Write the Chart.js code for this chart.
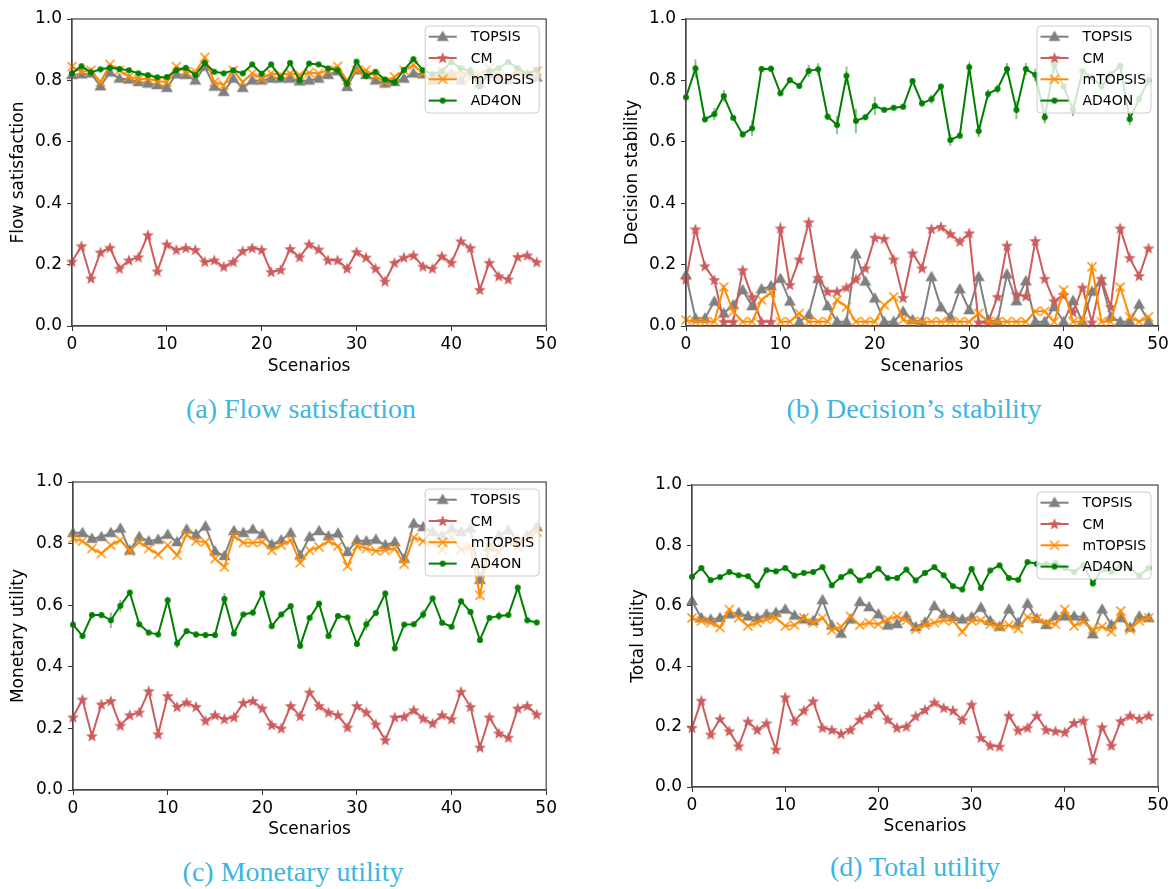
<!DOCTYPE html>
<html><head><meta charset="utf-8">
<script src="https://cdn.jsdelivr.net/npm/chart.js@4"></script>
<style>
body{margin:0;background:#fff;width:1176px;height:889px;position:relative;overflow:hidden}
canvas{position:absolute}
.cap{position:absolute;font-family:"Liberation Serif","Times New Roman",serif;font-size:28px;color:#3cb6e0;transform:translateX(-50%);white-space:nowrap;line-height:1}
</style></head><body>
<canvas id="ca" width="560" height="384" style="left:0;top:0"></canvas>
<canvas id="cb" width="576" height="384" style="left:600px;top:0"></canvas>
<canvas id="cc" width="560" height="408" style="left:0;top:440px"></canvas>
<canvas id="cd" width="576" height="405" style="left:600px;top:440px"></canvas>
<div class="cap" style="left:301px;top:395px">(a) Flow satisfaction</div>
<div class="cap" style="left:914px;top:395px">(b) Decision’s stability</div>
<div class="cap" style="left:293px;top:858px">(c) Monetary utility</div>
<div class="cap" style="left:915px;top:853px">(d) Total utility</div>
<script>
// ---------- data ----------
const scenarios = Array.from({length: 50}, (_, i) => i);
const seriesNames = ['TOPSIS', 'CM', 'mTOPSIS', 'AD4ON'];
const xTicks = [0, 10, 20, 30, 40, 50];
const yTicks = [0.0, 0.2, 0.4, 0.6, 0.8, 1.0];

// (a) Flow satisfaction
const flowTopsis = [.818,.82,.823,.781,.826,.806,.803,.795,.79,.785,.776,.82,.818,.80,.845,.78,.763,.806,.776,.80,.80,.806,.806,.806,.797,.80,.806,.818,.83,.779,.833,.818,.80,.79,.795,.806,.823,.82,.80,.82,.82,.80,.83,.79,.82,.81,.80,.83,.82,.81];
const flowCM = [.21,.26,.155,.24,.255,.187,.214,.224,.296,.178,.266,.248,.254,.248,.209,.214,.193,.209,.244,.254,.248,.176,.183,.251,.224,.266,.249,.214,.214,.187,.241,.223,.187,.145,.206,.223,.23,.194,.187,.227,.206,.276,.254,.118,.206,.162,.152,.225,.23,.208];
const flowMTopsis = [.845,.828,.833,.795,.852,.833,.812,.803,.806,.797,.795,.845,.828,.828,.875,.795,.785,.833,.795,.823,.806,.823,.818,.823,.818,.825,.823,.833,.846,.80,.833,.833,.814,.795,.812,.833,.85,.823,.80,.83,.82,.83,.81,.82,.84,.82,.81,.83,.82,.83];
const flowAD4ON = [.823,.846,.826,.836,.841,.837,.833,.823,.817,.81,.811,.833,.841,.817,.857,.828,.823,.833,.823,.852,.822,.852,.808,.857,.80,.855,.852,.839,.833,.79,.861,.814,.828,.803,.794,.834,.869,.833,.82,.83,.86,.84,.83,.78,.83,.84,.86,.84,.82,.835];
const flowAD4ONErr = [.01,.01,.005,.005,.005,.01,.005,.005,.005,.005,.005,.01,.005,.005,.01,.005,.005,.005,.005,.005,.005,.005,.005,.005,.005,.005,.005,.005,.005,.005,.005,.005,.005,.005,.005,.005,.01,.005,.005,.005,.005,.005,.005,.005,.005,.005,.005,.005,.005,.005];

// (b) Decision stability
const stabTopsis = [.166,.025,.025,.08,.041,.068,.117,.065,.12,.13,.154,.08,.014,.036,.154,.065,.014,.014,.234,.145,.09,.014,.014,.047,.02,.014,.16,.061,.03,.12,.052,.16,.02,.014,.168,.081,.146,.014,.014,.062,.014,.082,.014,.112,.146,.03,.014,.014,.07,.014];
const stabCM = [.152,.315,.195,.15,.014,.014,.182,.095,.014,.014,.318,.134,.217,.338,.157,.112,.112,.125,.152,.188,.288,.284,.217,.092,.237,.188,.316,.323,.30,.275,.302,.012,.012,.095,.262,.103,.097,.277,.154,.081,.101,.045,.125,.012,.154,.062,.318,.222,.163,.253];
const stabMTopsis = [.02,.014,.014,.014,.127,.047,.014,.014,.085,.109,.014,.014,.041,.014,.014,.014,.085,.062,.014,.014,.014,.068,.095,.02,.014,.014,.014,.014,.014,.014,.014,.041,.014,.014,.014,.014,.014,.048,.048,.014,.117,.014,.014,.193,.014,.014,.127,.03,.014,.03];
const stabAD4ON = [.745,.839,.673,.69,.749,.678,.624,.644,.837,.838,.758,.801,.782,.831,.836,.682,.655,.815,.668,.68,.717,.704,.711,.714,.798,.725,.739,.78,.606,.62,.843,.635,.756,.772,.837,.704,.837,.818,.68,.85,.78,.704,.83,.81,.78,.82,.847,.674,.74,.80];
const stabAD4ONErr = [.01,.03,.005,.02,.02,.005,.01,.025,.01,.01,.005,.01,.01,.02,.02,.01,.03,.03,.04,.01,.03,.005,.005,.005,.01,.01,.015,.005,.02,.01,.01,.02,.015,.015,.02,.03,.02,.02,.02,.02,.01,.02,.01,.01,.01,.01,.01,.02,.01,.02];

// (c) Monetary utility
const monTopsis = [.835,.835,.816,.822,.835,.849,.778,.822,.808,.813,.829,.805,.846,.829,.856,.775,.76,.841,.835,.846,.83,.797,.811,.835,.762,.822,.841,.824,.833,.773,.811,.808,.813,.795,.805,.751,.865,.854,.838,.826,.849,.838,.849,.683,.789,.826,.843,.81,.826,.854];
const monCM = [.236,.294,.175,.278,.289,.209,.243,.252,.321,.181,.305,.27,.284,.27,.225,.243,.23,.236,.283,.289,.265,.211,.20,.273,.24,.317,.273,.252,.243,.203,.273,.252,.213,.162,.236,.238,.259,.232,.216,.243,.23,.319,.27,.138,.236,.184,.17,.265,.273,.245];
const monMTopsis = [.816,.808,.784,.768,.795,.811,.776,.805,.784,.765,.795,.762,.829,.808,.805,.751,.724,.824,.803,.803,.805,.778,.795,.811,.738,.778,.789,.808,.792,.727,.792,.784,.776,.778,.784,.733,.82,.808,.805,.78,.822,.78,.789,.632,.789,.773,.805,.789,.816,.838];
const monAD4ON = [.537,.50,.568,.568,.551,.598,.641,.538,.511,.505,.616,.476,.516,.505,.503,.503,.62,.508,.57,.576,.638,.532,.57,.597,.468,.559,.605,.50,.565,.56,.474,.538,.575,.638,.46,.537,.538,.57,.622,.543,.53,.613,.578,.487,.559,.565,.568,.657,.551,.544];
const monAD4ONErr = [.005,.005,.01,.01,.025,.02,.005,.005,.005,.005,.005,.015,.005,.01,.01,.005,.02,.005,.005,.005,.005,.005,.005,.005,.005,.005,.005,.005,.005,.005,.005,.02,.005,.005,.005,.005,.005,.015,.005,.005,.005,.005,.005,.005,.005,.015,.005,.005,.01,.005];

// (d) Total utility
const totTopsis = [.616,.56,.555,.56,.572,.577,.565,.56,.572,.577,.588,.568,.555,.55,.619,.535,.508,.555,.613,.596,.572,.535,.54,.565,.53,.545,.599,.572,.563,.555,.563,.594,.55,.531,.588,.544,.607,.557,.537,.565,.565,.565,.563,.506,.588,.537,.56,.528,.565,.56];
const totCM = [.196,.286,.174,.225,.185,.135,.217,.189,.211,.124,.297,.218,.253,.284,.196,.189,.176,.189,.223,.242,.267,.223,.196,.20,.234,.255,.28,.262,.253,.222,.273,.163,.137,.134,.236,.187,.196,.236,.189,.185,.181,.212,.22,.09,.198,.137,.218,.236,.225,.236];
const totMTopsis = [.56,.55,.544,.528,.588,.56,.533,.544,.555,.56,.533,.536,.56,.544,.56,.519,.531,.565,.536,.544,.539,.555,.565,.552,.522,.537,.544,.552,.55,.514,.55,.552,.539,.531,.536,.524,.563,.558,.544,.539,.588,.533,.547,.522,.531,.514,.583,.522,.55,.56];
const totAD4ON = [.696,.725,.685,.695,.712,.701,.698,.667,.718,.714,.725,.70,.709,.712,.728,.668,.695,.714,.684,.70,.723,.692,.692,.72,.684,.709,.728,.701,.665,.654,.722,.659,.717,.734,.692,.686,.745,.739,.737,.742,.725,.712,.735,.674,.72,.712,.735,.725,.70,.725];

// ---------- styles ----------
const COLORS = ['#808080', '#cd5c5c', '#ff8c00', '#008000'];
function mk(w, h, fn) { const c = document.createElement('canvas'); c.width = w; c.height = h; fn(c.getContext('2d')); return c; }
const triImg = mk(14, 14, g => { g.fillStyle = COLORS[0]; g.beginPath(); g.moveTo(7, 0.8); g.lineTo(13, 11.2); g.lineTo(1, 11.2); g.closePath(); g.fill(); });
const starImg = mk(14, 14, g => { g.fillStyle = COLORS[1]; g.beginPath();
  for (let k = 0; k < 10; k++) { const r = k % 2 ? 2.6 : 6.3; const a = -Math.PI / 2 + k * Math.PI / 5; const px = 7 + r * Math.cos(a), py = 7.4 + r * Math.sin(a); k ? g.lineTo(px, py) : g.moveTo(px, py); }
  g.closePath(); g.fill(); });
const xImg = mk(12, 12, g => { g.strokeStyle = COLORS[2]; g.lineWidth = 1.5; g.beginPath(); g.moveTo(1.5, 1.5); g.lineTo(10.5, 10.5); g.moveTo(10.5, 1.5); g.lineTo(1.5, 10.5); g.stroke(); });
const dotImg = mk(8, 8, g => { g.fillStyle = COLORS[3]; g.beginPath(); g.arc(4, 4, 3, 0, Math.PI * 2); g.fill(); });
const MARKERS = [triImg, starImg, xImg, dotImg];

Chart.defaults.font.family = '"DejaVu Sans", sans-serif';
Chart.defaults.color = '#000';

const panelPlugin = {
  id: 'panelExtras',
  afterDatasetsDraw(chart) {
    const ctx = chart.ctx, a = chart.chartArea, ys = chart.scales.y, xs = chart.scales.x;
    // error bars
    chart.data.datasets.forEach(ds => {
      if (!ds.errors) return;
      ctx.save(); ctx.strokeStyle = 'rgba(0,128,0,0.45)'; ctx.lineWidth = 2; ctx.beginPath();
      ds.data.forEach((p, i) => { const e = ds.errors[i]; const px = xs.getPixelForValue(p.x);
        ctx.moveTo(px, ys.getPixelForValue(p.y - e)); ctx.lineTo(px, ys.getPixelForValue(p.y + e)); });
      ctx.stroke(); ctx.restore();
    });
    // frame
    ctx.save(); ctx.strokeStyle = '#444'; ctx.lineWidth = 1.2;
    ctx.strokeRect(a.left, a.top, a.right - a.left, a.bottom - a.top); ctx.restore();
    // legend
    const bw = 114, bh = 87, bx = a.right - 7 - bw, by = a.top + 7;
    ctx.save();
    ctx.beginPath(); ctx.roundRect(bx, by, bw, bh, 4);
    ctx.fillStyle = 'rgba(255,255,255,0.8)'; ctx.fill();
    ctx.strokeStyle = '#cccccc'; ctx.lineWidth = 1; ctx.stroke();
    ctx.font = '14px "DejaVu Sans"'; ctx.textBaseline = 'middle'; ctx.textAlign = 'left';
    seriesNames.forEach((n, i) => {
      const cy = by + 10.7 + i * 21.3;
      ctx.strokeStyle = COLORS[i]; ctx.lineWidth = 2; ctx.beginPath(); ctx.moveTo(bx + 3.5, cy); ctx.lineTo(bx + 31.5, cy); ctx.stroke();
      const m = MARKERS[i]; ctx.drawImage(m, bx + 17.5 - m.width / 2, cy - m.height / 2);
      ctx.fillStyle = '#000'; ctx.fillText(n, bx + 45.5, cy + 1);
    });
    ctx.restore();
  }
};

function makeChart(id, ylabel, series, errors, cfg) {
  const datasets = series.map((vals, i) => ({
    label: seriesNames[i],
    data: scenarios.map((s, j) => ({x: s, y: vals[j]})),
    borderColor: COLORS[i], backgroundColor: COLORS[i], borderWidth: 2,
    pointStyle: MARKERS[i], pointRadius: 5, tension: 0, clip: false,
    order: 4 - i,
    errors: i === 3 ? errors : null
  }));
  new Chart(document.getElementById(id), {
    type: 'line',
    data: {datasets},
    plugins: [panelPlugin],
    options: {
      responsive: false, animation: false, events: [],
      layout: {padding: {left: 0, top: cfg.top, right: cfg.right, bottom: 0}},
      plugins: {legend: {display: false}, tooltip: {enabled: false}},
      scales: {
        x: {type: 'linear', min: 0, max: 50,
          afterBuildTicks: s => { s.ticks = xTicks.map(v => ({value: v})); },
          ticks: {font: {size: 17}, padding: 3, maxRotation: 0, color: '#000'},
          grid: {display: true, drawOnChartArea: false, drawTicks: true, tickLength: 5, color: '#333'},
          border: {display: true, color: '#444', width: 1.2},
          title: {display: true, text: 'Scenarios', font: {size: 17}, color: '#000', padding: {top: 0, bottom: cfg.xpad}},
          afterFit: s => { s.height = 58; }
        },
        y: {type: 'linear', min: 0, max: 1,
          afterBuildTicks: s => { s.ticks = yTicks.map(v => ({value: v})); },
          ticks: {font: {size: 17}, padding: 5, color: '#000', callback: v => Number(v).toFixed(1)},
          grid: {display: true, drawOnChartArea: false, drawTicks: true, tickLength: 5, color: '#333'},
          border: {display: true, color: '#444', width: 1.2},
          title: {display: true, text: ylabel, font: {size: 17}, color: '#000', padding: {top: cfg.ypad, bottom: 0}},
          afterFit: s => { s.width = cfg.yw; }
        }
      }
    }
  });
}

makeChart('ca', 'Flow satisfaction', [flowTopsis, flowCM, flowMTopsis, flowAD4ON], flowAD4ONErr, {top: 19, right: 13, yw: 72, ypad: 8, xpad: 7});
makeChart('cb', 'Decision stability', [stabTopsis, stabCM, stabMTopsis, stabAD4ON], stabAD4ONErr, {top: 19, right: 18, yw: 86, ypad: 22, xpad: 7});
makeChart('cc', 'Monetary utility', [monTopsis, monCM, monMTopsis, monAD4ON], monAD4ONErr, {top: 42, right: 13, yw: 73, ypad: 8, xpad: 8});
makeChart('cd', 'Total utility', [totTopsis, totCM, totMTopsis, totAD4ON], null, {top: 45, right: 18, yw: 92, ypad: 28, xpad: 8});
</script>
</body></html>
